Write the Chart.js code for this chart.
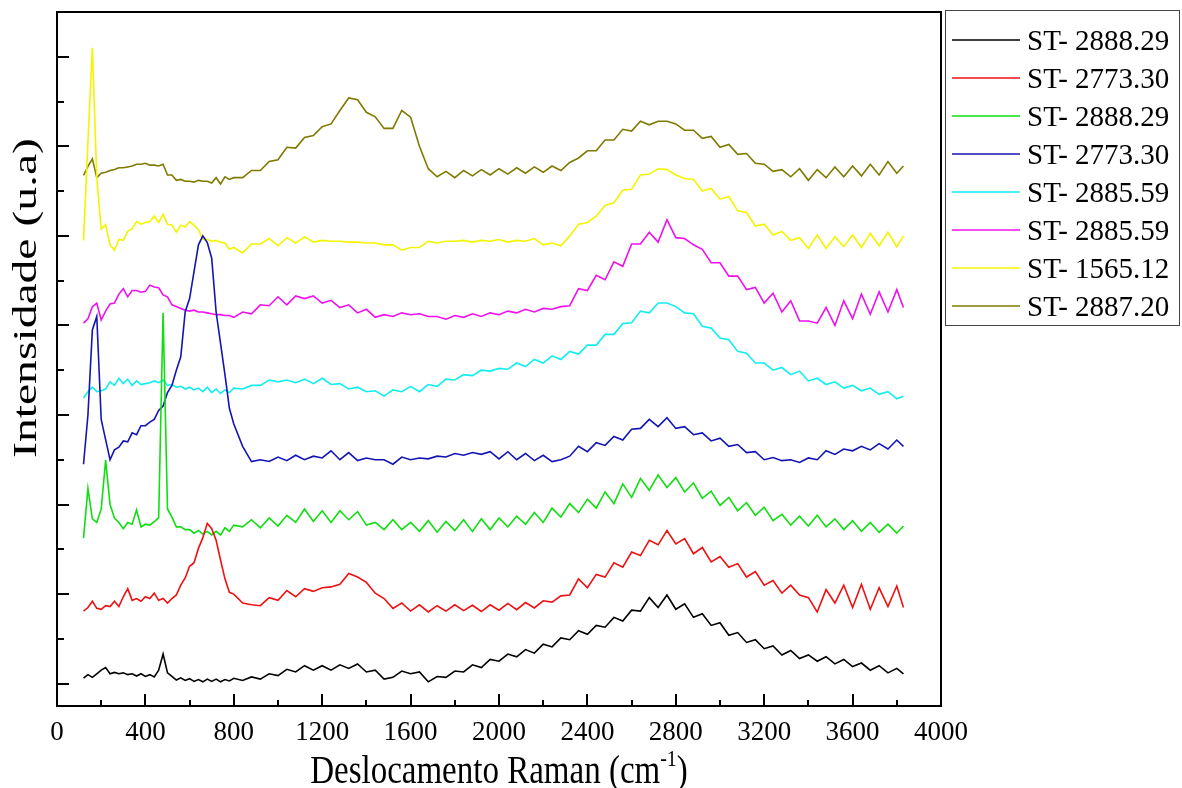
<!DOCTYPE html>
<html>
<head>
<meta charset="utf-8">
<script src="https://cdn.jsdelivr.net/npm/chart.js@4.4.0/dist/chart.umd.min.js"></script>
<style>
  html, body { margin: 0; padding: 0; background: #fff; }
  #ramanChart { display: block; }
</style>
</head>
<body>
<canvas id="ramanChart" width="1182" height="788"></canvas>
<script>
// Raman shift (cm-1) shared by all spectra
const ramanShift = [
  120, 140, 160, 180, 200, 220, 240, 260, 280, 300,
  320, 340, 360, 380, 400, 420, 440, 460, 480, 500,
  520, 540, 560, 580, 600, 620, 640, 660, 680, 700,
  720, 740, 760, 780, 800,
  840, 880, 920, 960, 1000, 1040, 1080, 1120, 1160, 1200,
  1240, 1280, 1320, 1360, 1400, 1440, 1480, 1520, 1560, 1600,
  1640, 1680, 1720, 1760, 1800, 1840, 1880, 1920, 1960, 2000,
  2040, 2080, 2120, 2160, 2200, 2240, 2280, 2320, 2360, 2400,
  2440, 2480, 2520, 2560, 2600, 2640, 2680, 2720, 2760, 2800,
  2840, 2880, 2920, 2960, 3000, 3040, 3080, 3120, 3160, 3200,
  3240, 3280, 3320, 3360, 3400, 3440, 3480, 3520, 3560, 3600,
  3640, 3680, 3720, 3760, 3800, 3830
];

// intensities (u.a), already stacked as in the picture
const black2888 = [
  0.12, 0.2, 0.14, 0.22, 0.3, 0.36, 0.22, 0.25, 0.22, 0.24,
  0.2, 0.22, 0.17, 0.22, 0.16, 0.2, 0.15, 0.3, 0.66, 0.24,
  0.16, 0.08, 0.13, 0.07, 0.11, 0.05, 0.09, 0.04, 0.1, 0.05,
  0.1, 0.04, 0.09, 0.06, 0.12,
  0.07, 0.15, 0.1, 0.22, 0.18, 0.32, 0.26, 0.4, 0.3, 0.4,
  0.3, 0.42, 0.34, 0.44, 0.26, 0.3, 0.1, 0.14, 0.28, 0.22,
  0.26, 0.04, 0.16, 0.14, 0.28, 0.26, 0.42, 0.36, 0.54, 0.5,
  0.66, 0.6, 0.76, 0.68, 0.88, 0.82, 1.02, 0.98, 1.18, 1.1,
  1.3, 1.26, 1.48, 1.4, 1.64, 1.62, 1.92, 1.7, 1.98, 1.66,
  1.78, 1.48, 1.56, 1.3, 1.36, 1.08, 1.14, 0.92, 0.98, 0.78,
  0.84, 0.64, 0.74, 0.56, 0.64, 0.5, 0.6, 0.44, 0.54, 0.38,
  0.46, 0.3, 0.4, 0.24, 0.34, 0.22
];
const red2773 = [
  1.62, 1.7, 1.84, 1.68, 1.66, 1.74, 1.72, 1.84, 1.72, 1.94,
  2.12, 1.86, 1.9, 1.84, 1.94, 1.9, 2.02, 1.86, 1.9, 1.8,
  1.9, 1.98, 2.2, 2.36, 2.62, 2.7, 3.02, 3.26, 3.58, 3.46,
  3.2, 2.76, 2.34, 2.04, 2.0,
  1.8, 1.76, 1.74, 1.92, 1.86, 2.08, 1.94, 2.12, 2.06, 2.14,
  2.16, 2.22, 2.46, 2.38, 2.26, 2.02, 1.9, 1.68, 1.8, 1.62,
  1.76, 1.6, 1.74, 1.62, 1.76, 1.63, 1.75, 1.61, 1.76, 1.64,
  1.79, 1.65, 1.81, 1.69, 1.85, 1.82, 1.96, 1.98, 2.34, 2.14,
  2.44, 2.38, 2.7, 2.6, 2.94, 2.86, 3.2, 3.1, 3.42, 3.12,
  3.24, 2.9, 3.04, 2.72, 2.84, 2.6, 2.68, 2.38, 2.5, 2.2,
  2.3, 2.02, 2.2, 1.98, 1.92, 1.6, 2.1, 1.8, 2.2, 1.7,
  2.22, 1.66, 2.14, 1.72, 2.18, 1.7
];
const green2888 = [
  3.25, 4.36, 3.68, 3.6, 3.9, 4.99, 4.0, 3.7, 3.6, 3.46,
  3.6, 3.56, 3.88, 3.5, 3.56, 3.54, 3.62, 3.7, 8.28, 3.9,
  3.72, 3.5, 3.5, 3.44, 3.44, 3.36, 3.42, 3.34, 3.4, 3.32,
  3.4, 3.32, 3.48, 3.4, 3.54,
  3.5, 3.66, 3.48, 3.7, 3.52, 3.76, 3.6, 3.9, 3.62, 3.86,
  3.6, 3.86, 3.66, 3.84, 3.54, 3.6, 3.44, 3.66, 3.44, 3.6,
  3.4, 3.64, 3.38, 3.62, 3.42, 3.66, 3.4, 3.68, 3.44, 3.7,
  3.5, 3.74, 3.56, 3.82, 3.6, 3.92, 3.72, 4.02, 3.82, 4.12,
  3.92, 4.28, 4.02, 4.46, 4.16, 4.58, 4.32, 4.66, 4.38, 4.6,
  4.28, 4.48, 4.14, 4.3, 3.98, 4.16, 3.86, 4.04, 3.76, 3.94,
  3.64, 3.78, 3.54, 3.74, 3.52, 3.76, 3.5, 3.68, 3.44, 3.64,
  3.4, 3.6, 3.38, 3.56, 3.36, 3.52
];
const blue2773 = [
  4.9, 6.0, 7.9, 8.2, 5.9, 5.45, 5.0, 5.22, 5.28, 5.42,
  5.4, 5.6, 5.56, 5.76, 5.76, 5.84, 5.9, 6.1, 6.2, 6.5,
  6.66, 7.0, 7.3, 8.3, 8.6, 9.2, 9.8, 10.0, 9.85, 9.5,
  8.3, 7.6, 6.9, 6.15, 5.8,
  5.3, 4.96, 5.0, 4.96, 5.06, 4.98, 5.1, 5.0, 5.08, 5.04,
  5.2, 5.0, 5.16, 4.98, 5.04, 5.0, 5.0, 4.9, 5.06, 5.0,
  5.04, 5.02, 5.08, 5.06, 5.14, 5.1, 5.16, 5.12, 5.18, 5.02,
  5.18, 5.0, 5.14, 4.98, 5.1, 4.96, 5.0, 5.08, 5.3, 5.18,
  5.38, 5.32, 5.52, 5.44, 5.68, 5.7, 5.9, 5.74, 5.94, 5.7,
  5.74, 5.56, 5.6, 5.42, 5.48, 5.3, 5.34, 5.16, 5.18, 5.0,
  5.05, 4.98, 5.0, 4.94, 5.04, 5.0, 5.2, 5.12, 5.24, 5.2,
  5.3, 5.22, 5.36, 5.24, 5.44, 5.3
];
const cyan2885 = [
  6.38, 6.52, 6.62, 6.52, 6.54, 6.58, 6.74, 6.66, 6.82, 6.7,
  6.8, 6.66, 6.76, 6.68, 6.7, 6.72, 6.76, 6.72, 6.78, 6.66,
  6.68, 6.62, 6.64, 6.58, 6.62, 6.56, 6.6, 6.52, 6.62, 6.5,
  6.58, 6.48, 6.56, 6.5, 6.6,
  6.58, 6.66, 6.66, 6.78, 6.74, 6.78, 6.72, 6.8, 6.7, 6.82,
  6.68, 6.7, 6.58, 6.62, 6.52, 6.54, 6.42, 6.56, 6.52, 6.64,
  6.52, 6.68, 6.64, 6.8, 6.78, 6.9, 6.88, 7.0, 6.98, 7.04,
  7.02, 7.16, 7.08, 7.24, 7.16, 7.32, 7.24, 7.42, 7.36, 7.56,
  7.56, 7.8, 7.8, 8.04, 8.06, 8.32, 8.28, 8.5, 8.5, 8.42,
  8.28, 8.26, 7.98, 7.94, 7.72, 7.68, 7.42, 7.38, 7.16, 7.16,
  7.0, 7.06, 6.9, 6.98, 6.76, 6.82, 6.68, 6.74, 6.6, 6.66,
  6.54, 6.6, 6.46, 6.52, 6.36, 6.42
];
const magenta2885 = [
  8.05, 8.15, 8.42, 8.5, 8.12, 8.32, 8.48, 8.5, 8.7, 8.82,
  8.64, 8.78, 8.78, 8.74, 8.76, 8.9, 8.86, 8.84, 8.68, 8.64,
  8.46, 8.42, 8.38, 8.34, 8.32, 8.34, 8.3, 8.3, 8.28, 8.26,
  8.24, 8.24, 8.22, 8.22, 8.18,
  8.3, 8.26, 8.46, 8.44, 8.64, 8.46, 8.66, 8.6, 8.66, 8.5,
  8.56, 8.4, 8.46, 8.28, 8.36, 8.18, 8.24, 8.2, 8.28, 8.24,
  8.26, 8.2, 8.2, 8.14, 8.22, 8.18, 8.26, 8.2, 8.28, 8.24,
  8.32, 8.28, 8.36, 8.3, 8.38, 8.36, 8.42, 8.44, 8.82, 8.78,
  9.12, 9.02, 9.42, 9.32, 9.82, 9.82, 10.08, 9.86, 10.36, 9.96,
  9.94, 9.8, 9.7, 9.4, 9.4, 9.1, 9.1, 8.8, 8.85, 8.5,
  8.72, 8.3, 8.55, 8.1, 8.1, 8.05, 8.4, 8.0, 8.55, 8.15,
  8.7, 8.25, 8.75, 8.3, 8.8, 8.4
];
const yellow1565 = [
  9.9, 12.1, 14.2, 11.3, 10.15, 10.25, 9.8, 9.68, 9.92, 9.9,
  10.1, 10.16, 10.32, 10.26, 10.3, 10.32, 10.44, 10.3, 10.48, 10.26,
  10.24, 10.08, 10.24, 10.2, 10.32, 10.24, 10.14, 9.92, 9.92, 9.88,
  9.9, 9.86, 9.84, 9.7, 9.74,
  9.62, 9.82, 9.82, 9.94, 9.78, 9.96, 9.84, 9.98, 9.86, 9.9,
  9.88, 9.88, 9.86, 9.86, 9.84, 9.84, 9.8, 9.8, 9.68, 9.74,
  9.74, 9.88, 9.84, 9.88, 9.88, 9.9, 9.86, 9.9, 9.88, 9.92,
  9.86, 9.9, 9.88, 9.94, 9.8, 9.84, 9.78, 10.0, 10.26, 10.3,
  10.44, 10.68, 10.74, 11.02, 11.04, 11.36, 11.38, 11.5, 11.48, 11.36,
  11.28, 11.26, 11.0, 11.06, 10.82, 10.88, 10.56, 10.52, 10.22, 10.26,
  10.02, 10.1, 9.9, 9.96, 9.72, 10.02, 9.72, 9.98, 9.76, 10.02,
  9.74, 10.06, 9.78, 10.08, 9.76, 10.0
];
const olive2887 = [
  11.35, 11.55, 11.72, 11.3, 11.4, 11.42, 11.46, 11.48, 11.52, 11.52,
  11.54, 11.56, 11.6, 11.6, 11.62, 11.58, 11.58, 11.56, 11.6, 11.36,
  11.36, 11.24, 11.26, 11.22, 11.22, 11.2, 11.24, 11.22, 11.22, 11.18,
  11.3, 11.16, 11.32, 11.26, 11.3,
  11.3, 11.46, 11.46, 11.66, 11.7, 11.98, 11.96, 12.2, 12.24, 12.44,
  12.5, 12.8, 13.08, 13.04, 12.76, 12.66, 12.4, 12.4, 12.8, 12.65,
  12.0, 11.5, 11.32, 11.44, 11.3, 11.46, 11.34, 11.48, 11.36, 11.5,
  11.38, 11.52, 11.4, 11.54, 11.42, 11.56, 11.46, 11.64, 11.74, 11.9,
  11.9, 12.14, 12.14, 12.38, 12.34, 12.56, 12.48, 12.56, 12.56, 12.5,
  12.36, 12.36, 12.18, 12.22, 11.98, 12.04, 11.82, 11.84, 11.62, 11.6,
  11.44, 11.48, 11.32, 11.5, 11.24, 11.48, 11.3, 11.54, 11.32, 11.56,
  11.34, 11.6, 11.36, 11.66, 11.4, 11.56
];

const seriesLabels = ["ST- 2888.29", "ST- 2773.30", "ST- 2888.29", "ST- 2773.30",
                      "ST- 2885.59", "ST- 2885.59", "ST- 1565.12", "ST- 2887.20"];
const seriesValues = [black2888, red2773, green2888, blue2773,
                      cyan2885, magenta2885, yellow1565, olive2887];
const seriesColors = ["#000000", "#ee1111", "#11dd11", "#1414b4",
                      "#11eef0", "#ee11ee", "#f4f400", "#7f7a00"];

const xTickLabels = ["0", "400", "800", "1200", "1600", "2000", "2400", "2800", "3200", "3600", "4000"];
const yTickValues = [0, 1, 2, 3, 4, 5, 6, 7, 8, 9, 10, 11, 12, 13, 14];

const serif = "'Liberation Serif', 'Times New Roman', serif";

// frame, inward ticks, axis titles and the boxed legend
const originLook = {
  id: "originLook",
  afterDraw(chart) {
    const { ctx, chartArea: ca, scales } = chart;
    ctx.save();
    ctx.strokeStyle = "#000";
    ctx.lineWidth = 2;
    ctx.strokeRect(ca.left, ca.top, ca.right - ca.left, ca.bottom - ca.top);

    ctx.beginPath();
    yTickValues.forEach((v) => {
      const py = Math.round(scales.y.getPixelForValue(v));
      const len = v % 2 === 0 ? 12 : 7;
      ctx.moveTo(ca.left, py);
      ctx.lineTo(ca.left + len, py);
    });
    scales.x.ticks.forEach((t) => {
      const px = Math.round(scales.x.getPixelForValue(t.value));
      const len = t.value % 400 === 0 ? 12 : 6;
      ctx.moveTo(px, ca.bottom);
      ctx.lineTo(px, ca.bottom - len);
    });
    ctx.stroke();

    // x title with superscript
    ctx.fillStyle = "#000";
    ctx.textBaseline = "alphabetic";
    ctx.textAlign = "left";
    const main = "Deslocamento Raman (cm";
    ctx.font = "33px " + serif;
    const wMain = ctx.measureText(main).width;
    const wClose = ctx.measureText(")").width;
    ctx.font = "20px " + serif;
    const wSup = ctx.measureText("-1").width;
    const x0 = (ca.left + ca.right) / 2 - (wMain + wSup + wClose) / 2;
    ctx.save();
    ctx.translate(x0, 783);
    ctx.scale(1, 1.2);
    ctx.font = "33px " + serif;
    ctx.fillText(main, 0, 0);
    ctx.fillText(")", wMain + wSup, 0);
    ctx.font = "20px " + serif;
    ctx.fillText("-1", wMain, -14);
    ctx.restore();

    // y title
    ctx.save();
    ctx.translate(27, 298);
    ctx.rotate(-Math.PI / 2);
    ctx.scale(1.4, 1);
    ctx.font = "34px " + serif;
    ctx.textAlign = "center";
    ctx.textBaseline = "middle";
    ctx.fillText("Intensidade (u.a)", 0, 0);
    ctx.restore();

    // legend box
    ctx.strokeStyle = "#444";
    ctx.lineWidth = 1;
    ctx.strokeRect(945.5, 10.5, 234, 315);
    ctx.font = "29px " + serif;
    ctx.textBaseline = "middle";
    chart.data.datasets.forEach((ds, i) => {
      const y = 40 + i * 38;
      ctx.strokeStyle = ds.borderColor;
      ctx.lineWidth = 1.5;
      ctx.beginPath();
      ctx.moveTo(952, y);
      ctx.lineTo(1020, y);
      ctx.stroke();
      ctx.fillStyle = "#000";
      ctx.fillText(ds.label, 1027, y + 2);
    });
    ctx.restore();
  },
};

const ramanCtx = document.getElementById("ramanChart").getContext("2d");
new Chart(ramanCtx, {
  type: "line",
  data: {
    datasets: seriesValues.map((vals, i) => ({
      label: seriesLabels[i],
      data: ramanShift.map((x, j) => ({ x: x, y: vals[j] })),
      borderColor: seriesColors[i],
      borderWidth: 1.6,
      pointRadius: 0,
      tension: 0,
      fill: false,
    })),
  },
  options: {
    responsive: false,
    animation: false,
    devicePixelRatio: 1,
    layout: { padding: { left: 0, top: 12, right: 241, bottom: 0 } },
    plugins: {
      legend: { display: false },
      tooltip: { enabled: false },
    },
    scales: {
      x: {
        type: "linear",
        min: 0,
        max: 4000,
        grid: { display: false, drawTicks: false },
        border: { display: false },
        ticks: {
          stepSize: 200,
          autoSkip: false,
          maxRotation: 0,
          padding: 11,
          color: "#000",
          font: { family: serif, size: 27 },
          callback: (v) => (xTickLabels.includes(String(v)) ? String(v) : ""),
        },
        afterFit: (scale) => { scale.height = 82; },
      },
      y: {
        min: -0.5,
        max: 15,
        grid: { display: false, drawTicks: false },
        border: { display: false },
        ticks: { display: false },
        afterFit: (scale) => { scale.width = 57; },
      },
    },
  },
  plugins: [originLook],
});
</script>
</body>
</html>
